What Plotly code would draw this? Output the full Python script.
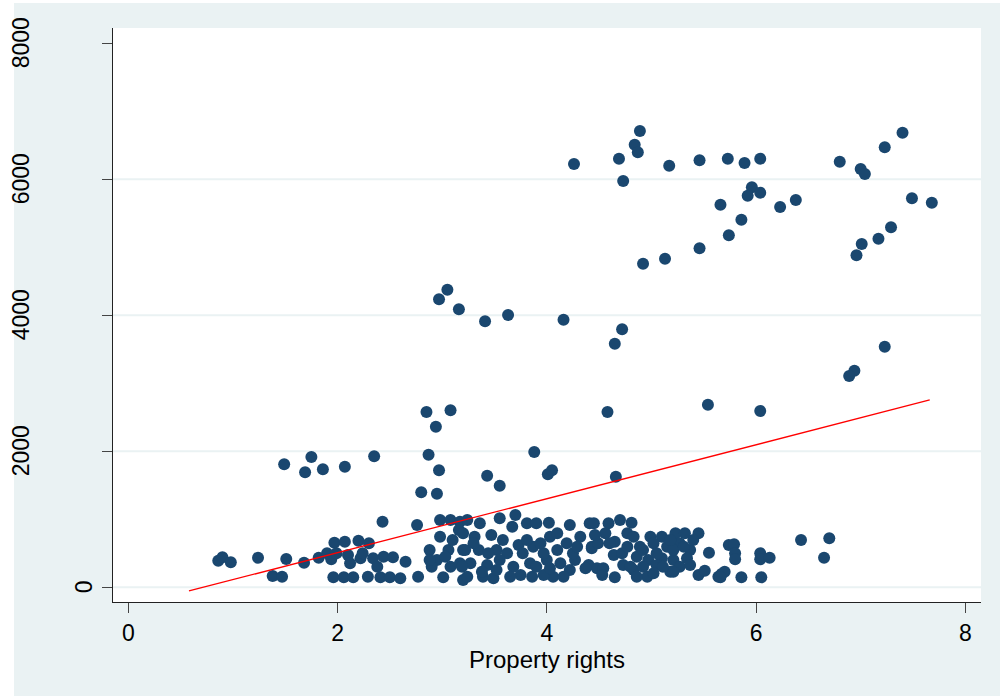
import plotly.graph_objects as go

# Property-rights index (x) against the outcome value (y), one point per observation
property_rights = [
    # upper band
    4.26, 4.69, 4.73, 4.84, 4.87, 4.89, 5.17, 5.46, 5.73, 5.89, 6.04, 6.80, 7.00, 7.04, 7.23, 7.40,
    7.49, 7.68, 5.96, 5.92, 6.04, 5.66, 6.23, 6.38, 5.86, 5.74, 5.46, 5.13, 4.92, 7.29, 7.17, 7.01,
    6.96, 3.05, 2.97, 3.16, 3.41, 3.63, 4.16, 4.72, 4.65, 7.23, 6.94, 6.89,
    # middle band
    2.85, 3.08, 2.94, 1.49, 1.75, 1.69, 1.86, 2.07, 2.35, 2.87, 2.97, 2.80, 2.95, 2.43, 2.76, 4.58,
    5.54, 6.04, 3.88, 3.43, 3.55, 4.01, 4.05, 4.66,
    # lower cluster
    0.86, 0.90, 0.98, 1.24, 1.38, 1.47, 1.51, 1.68, 1.82, 1.90, 1.94, 1.97, 1.96,
    2.07, 2.20, 2.30, 1.99, 2.10, 2.22, 2.34, 2.44, 2.53, 2.65, 2.38, 2.06, 2.15, 2.29, 2.41, 2.50,
    2.60, 2.77, 3.01, 2.88, 2.95, 2.90, 2.98, 3.08, 3.17, 2.98, 3.06, 3.16, 3.20, 3.08, 3.17, 3.20,
    3.55, 3.70, 3.67, 3.81, 3.90, 4.02, 4.22, 4.41, 3.24, 3.36, 3.31, 3.47, 3.22, 3.35, 3.52, 3.62,
    3.73, 3.87, 4.03, 4.19, 4.32, 4.43, 3.27, 3.43, 3.55, 3.68, 3.84, 4.00, 4.13, 4.27, 4.40, 3.24,
    3.39, 3.49, 3.75, 3.86, 4.06, 4.22, 4.37, 3.20, 3.97,
    4.45, 4.59, 4.70, 4.81, 4.56, 4.65, 4.77, 4.83, 4.99, 5.10, 5.23, 5.32, 5.45, 4.43, 4.89, 5.02,
    5.15, 5.27, 5.37, 5.55, 4.64, 4.72, 4.86, 4.97, 5.10, 5.21, 5.34, 4.48, 4.54, 4.73, 4.83, 4.92,
    5.05, 5.18, 5.27, 5.37, 4.65, 4.96, 5.21, 5.45, 5.51, 5.64, 5.67, 5.74,
    5.79, 5.80, 5.80, 5.70, 5.66, 5.86, 6.04, 6.04, 6.13, 6.05, 6.43, 6.70, 6.65,
    3.30, 3.44, 3.58, 3.77, 3.94, 4.10, 4.25, 3.65, 3.97, 4.16, 3.90, 3.38, 3.19, 3.52, 4.03, 3.81,
    4.10, 4.29, 4.49, 4.60, 4.77, 5.05, 5.21, 4.80, 5.11, 4.92, 5.31, 5.02, 4.86, 4.53, 4.46, 5.18,
    5.40, 2.88, 2.12, 2.24, 3.10, 3.03,
]

outcome = [
    6225, 6303, 5975, 6509, 6397, 6710, 6200, 6279, 6303, 6240, 6303, 6259, 6151, 6078, 6471, 6685,
    5721, 5656, 5882, 5759, 5803, 5626, 5593, 5696, 5406, 5176, 4985, 4832, 4759, 5294, 5127, 5049,
    4882, 4376, 4235, 4088, 3912, 4004, 3935, 3794, 3582, 3538, 3185, 3107,
    2578, 2603, 2362, 1809, 1916, 1691, 1735, 1774, 1926, 1950, 1721, 1397, 1376, 965, 916, 2578,
    2685, 2593, 1990, 1641, 1494, 1662, 1721, 1626,
    391, 441, 368, 435, 166, 156, 416, 362, 435, 500, 412, 656, 147,
    671, 685, 647, 500, 475, 426, 426, 450, 441, 376, 303, 147, 147, 156, 147, 147,
    132, 156, 147, 549, 401, 303, 990, 990, 965, 744, 549, 843, 549, 303, 353, 107,
    1015, 1063, 891, 941, 941, 950, 916, 941, 990, 941, 744, 769, 549, 549, 549, 500,
    622, 597, 744, 647, 744, 597, 353, 328, 401, 303, 353, 401, 353, 401, 328, 156,
    156, 132, 181, 156, 156, 254, 279, 794, 500,
    941, 941, 990, 950, 794, 671, 794, 744, 744, 744, 794, 794, 794, 574, 597, 647,
    597, 647, 549, 509, 475, 500, 450, 401, 426, 401, 426, 279, 279, 328, 254, 303,
    328, 230, 303, 328, 147, 156, 230, 181, 244, 156, 195, 622,
    632, 500, 412, 230, 147, 147, 500, 412, 435, 147, 696, 721, 435,
    647, 500, 696, 500, 647, 549, 500, 156, 181, 156, 303, 230, 303, 254, 279, 696,
    794, 597, 647, 647, 597, 500, 549, 303, 303, 549, 597, 205, 156, 181, 769, 696,
    696, 401, 353, 500, 696, 450,
]

# Linear fit drawn across the sample range
fit_x = [0.58, 7.66]
fit_y = [-54, 2755]

x_ticks = [0, 2, 4, 6, 8]
y_ticks = [0, 2000, 4000, 6000, 8000]
y_grid = [0, 2000, 4000, 6000]
x_title = "Property rights"

X_RANGE = [-0.146, 8.15]
Y_RANGE = [-216, 8225]

BG = "#EAF2F3"
NAVY = "#1A476F"
FONT = "Liberation Sans, Arial, sans-serif"

W, H = 1000, 696
M_L, M_R, M_T, M_B = 113, 19, 28, 94
PLOT_W = W - M_L - M_R
PLOT_H = H - M_T - M_B

fig = go.Figure()

fig.add_trace(go.Scatter(
    x=property_rights, y=outcome, mode="markers",
    marker=dict(size=12, color=NAVY, line=dict(width=0)),
    showlegend=False, hoverinfo="x+y",
))
fig.add_trace(go.Scatter(
    x=fit_x, y=fit_y, mode="lines",
    line=dict(color="#FF0000", width=1.3),
    showlegend=False, hoverinfo="skip",
))

shapes = []
# thin white border along the left and top edges of the graph region
shapes.append(dict(type="rect", xref="paper", yref="paper",
                   x0=(0 - M_L) / PLOT_W - 0.01, x1=(14 - M_L) / PLOT_W,
                   y0=-M_B / PLOT_H - 0.05, y1=(H - M_B) / PLOT_H + 0.1,
                   fillcolor="white", line=dict(width=0), layer="below"))
shapes.append(dict(type="rect", xref="paper", yref="paper",
                   x0=(0 - M_L) / PLOT_W - 0.01, x1=(W - M_L) / PLOT_W + 0.01,
                   y0=(H - M_B - 3) / PLOT_H, y1=(H - M_B) / PLOT_H + 0.1,
                   fillcolor="white", line=dict(width=0), layer="below"))
# horizontal grid lines
for g in y_grid:
    shapes.append(dict(type="line", xref="paper", yref="y", x0=0, x1=1, y0=g, y1=g,
                       line=dict(color=BG, width=2), layer="below"))

# rotated y tick labels
annotations = []
for v in y_ticks:
    label = str(v)
    cx = 84 - 21 * (len(label) - 1)
    annotations.append(dict(
        text=label, xref="paper", yref="y", x=(cx - M_L) / PLOT_W, y=v,
        xanchor="center", yanchor="middle", textangle=-90, showarrow=False,
        font=dict(family=FONT, size=23, color="black"),
    ))

fig.update_layout(
    width=W, height=H,
    margin=dict(l=M_L, r=M_R, t=M_T, b=M_B, autoexpand=False),
    paper_bgcolor=BG, plot_bgcolor="white",
    font=dict(family=FONT, size=23, color="black"),
    shapes=shapes, annotations=annotations,
    xaxis=dict(
        range=X_RANGE, tickmode="array", tickvals=x_ticks, ticktext=[str(t) for t in x_ticks],
        showgrid=False, zeroline=False, showline=True, linecolor="#222222", linewidth=1.2,
        ticks="outside", ticklen=10, tickwidth=1.2, tickcolor="#444444",
        tickfont=dict(family=FONT, size=23), automargin=False,
        title=dict(text=x_title, font=dict(family=FONT, size=24), standoff=2),
    ),
    yaxis=dict(
        range=Y_RANGE, tickmode="array", tickvals=y_ticks, showticklabels=False,
        showgrid=False, zeroline=False, showline=True, linecolor="#222222", linewidth=1.2,
        ticks="outside", ticklen=10, tickwidth=1.2, tickcolor="#444444", automargin=False,
    ),
)

fig.write_html("out.html")
